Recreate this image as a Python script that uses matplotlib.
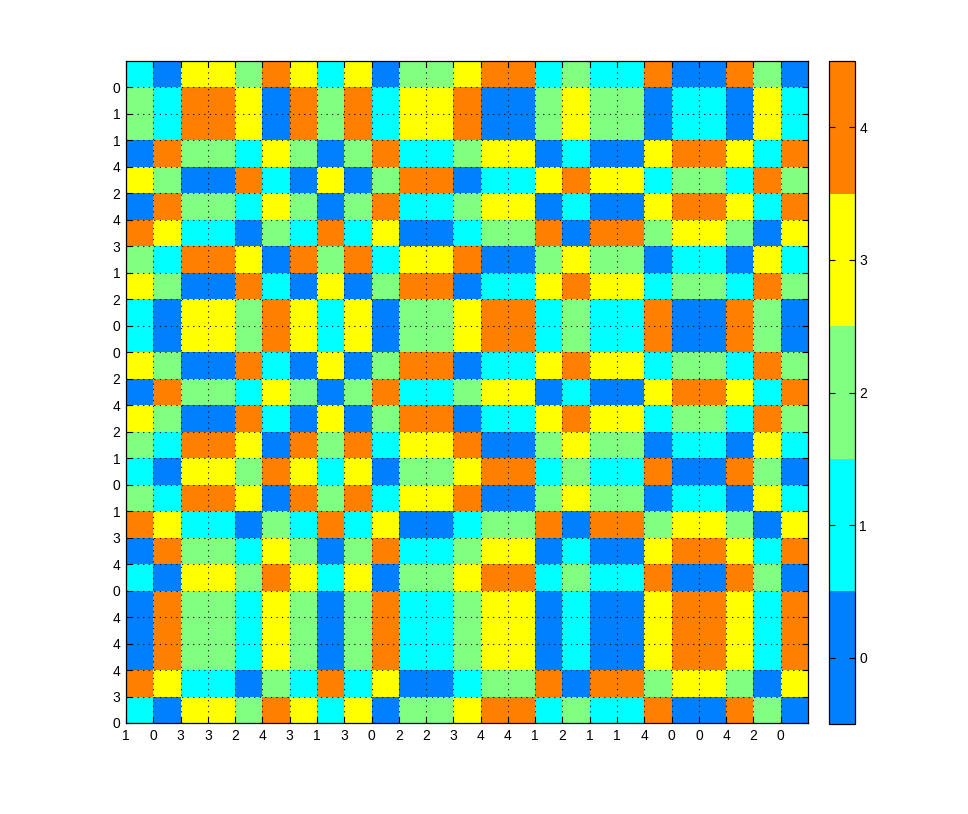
import numpy as np
import matplotlib
matplotlib.use('Agg')
import matplotlib.pyplot as plt
from matplotlib.colors import ListedColormap, Normalize

# ── data ──
# x tick labels (left to right), at the left edge of each column
x_labels = [1, 0, 3, 3, 2, 4, 3, 1, 3, 0, 2, 2, 3, 4, 4, 1, 2, 1, 1, 4, 0, 0, 4, 2, 0]
# y tick labels (bottom to top), at the lower edge of each row
y_labels = [0, 3, 4, 4, 4, 0, 4, 3, 1, 0, 1, 2, 4, 2, 0, 0, 2, 1, 3, 4, 2, 4, 1, 1, 0]

# cell values, rows listed top to bottom
rows_top_down = [
    '1033243130223441211400420',
    '2144304241334002322011031',
    '2144304241334002322011031',
    '0422132024112330100344314',
    '3200410302440113433122142',
    '0422132024112330100344314',
    '4311021413001224044233203',
    '2144304241334002322011031',
    '3200410302440113433122142',
    '1033243130223441211400420',
    '1033243130223441211400420',
    '3200410302440113433122142',
    '0422132024112330100344314',
    '3200410302440113433122142',
    '2144304241334002322011031',
    '1033243130223441211400420',
    '2144304241334002322011031',
    '4311021413001224044233203',
    '0422132024112330100344314',
    '1033243130223441211400420',
    '0422132024112330100344314',
    '0422132024112330100344314',
    '0422132024112330100344314',
    '4311021413001224044233203',
    '1033243130223441211400420',
]
cbar_ticks = [0, 1, 2, 3, 4]

Z = np.array([[int(c) for c in r] for r in rows_top_down])[::-1]

# jet(5) colours
JET5 = ['#0080FF', '#00FFFF', '#80FF80', '#FFFF00', '#FF8000']
cmap = ListedColormap(JET5)
norm = Normalize(vmin=-0.5, vmax=4.5)

plt.rcParams['font.family'] = ['Liberation Sans', 'DejaVu Sans']

W, H = 968, 814
fig = plt.figure(figsize=(W / 100, H / 100), dpi=100, facecolor='white')
ax = fig.add_axes([126 / W, 1 - 723 / H, (808 - 126) / W, (723 - 61) / H])
cax = fig.add_axes([829 / W, 1 - 724 / H, (855 - 829) / W, (724 - 61) / H])

n = Z.shape[0]
edges = np.arange(1, n + 2)
mesh = ax.pcolormesh(edges, edges, Z, cmap=cmap, norm=norm, zorder=1)

ax.set_xlim(1, n + 1)
ax.set_ylim(1, n + 1)
ax.set_xticks(np.arange(1, n + 1))
ax.set_xticklabels([str(v) for v in x_labels])
ax.set_yticks(np.arange(1, n + 1))
ax.set_yticklabels([str(v) for v in y_labels])
ax.tick_params(direction='in', top=True, right=True, length=4.5, width=0.8,
               labelsize=10, colors='black')
ax.tick_params(axis='x', pad=4)
ax.tick_params(axis='y', pad=4)

ax.grid(True, color='black', linestyle=(0, (1, 4)), linewidth=0.8, zorder=2)
ax.set_axisbelow(False)
for sp in ax.spines.values():
    sp.set_linewidth(0.9)
    sp.set_color('black')
    sp.set_zorder(3)

cb = fig.colorbar(mesh, cax=cax, ticks=cbar_ticks)
cb.outline.set_linewidth(0.9)
cb.outline.set_edgecolor('black')
cax.tick_params(direction='in', left=True, right=True, length=4.5, width=0.8,
                labelsize=10, pad=3)
cax.set_yticklabels([str(t) for t in cbar_ticks])

fig.savefig('out.png', dpi=100, facecolor='white')
plt.close('all')
